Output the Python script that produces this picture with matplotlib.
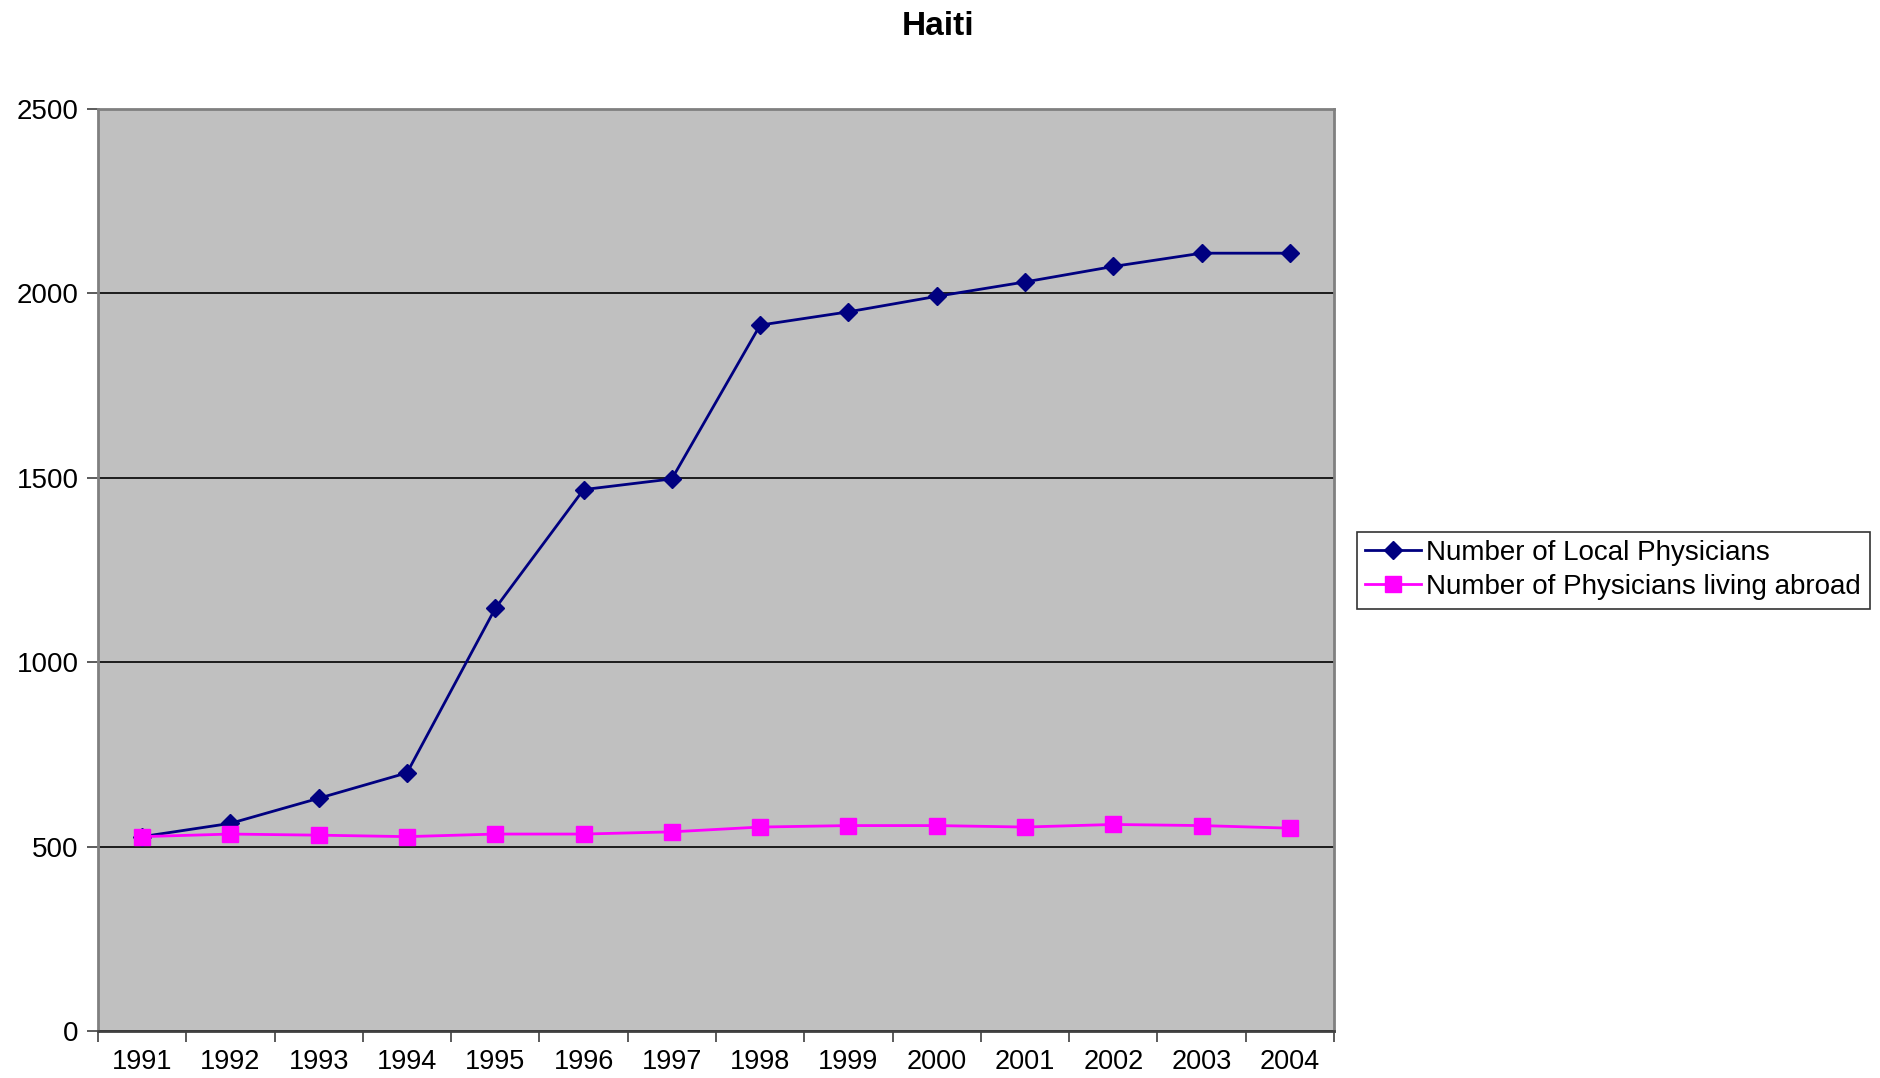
import matplotlib.pyplot as plt
import numpy as np

plt.rcParams['font.family'] = ['Liberation Sans', 'DejaVu Sans']

# dados
years = ['1991', '1992', '1993', '1994', '1995', '1996', '1997',
         '1998', '1999', '2000', '2001', '2002', '2003', '2004']
local = [527, 563, 631, 700, 1146, 1468, 1497, 1914, 1950, 1992, 2031, 2073, 2109, 2109]
abroad = [527, 534, 531, 527, 534, 534, 540, 553, 557, 557, 553, 560, 557, 550]

fig = plt.figure(figsize=(18.81, 10.78), dpi=100)
ax = fig.add_axes([0.0521, 0.0436, 0.6571, 0.8553])
ax.set_facecolor('#C0C0C0')

x = np.arange(len(years))
ax.plot(x, local, color='#000080', marker='D', markersize=9, linewidth=2,
        label='Number of Local Physicians', zorder=3)
ax.plot(x, abroad, color='#FF00FF', marker='s', markersize=11, linewidth=2,
        label='Number of Physicians living abroad', zorder=3)

ax.set_xlim(-0.5, len(years) - 0.5)
ax.set_ylim(0, 2500)
ax.set_yticks(np.arange(0, 2501, 500))
ax.yaxis.grid(True, color='black', linewidth=1.2)
ax.set_axisbelow(True)

# ticks entre as categorias, rótulos no centro
ax.set_xticks(np.arange(-0.5, len(years), 1.0))
ax.set_xticklabels([])
ax.set_xticks(x, minor=True)
ax.set_xticklabels(years, minor=True)
ax.tick_params(axis='x', which='major', length=8, width=1.2, color='#404040')
ax.tick_params(axis='x', which='minor', length=0, pad=13, labelsize=19.5)
ax.tick_params(axis='y', length=8, width=1.2, color='#404040', pad=6, labelsize=20)

for s in ['top', 'right', 'left']:
    ax.spines[s].set_color('#808080')
    ax.spines[s].set_linewidth(2)
ax.spines['bottom'].set_color('#404040')
ax.spines['bottom'].set_linewidth(2)

fig.suptitle('Haiti', x=0.4985, y=0.99, fontsize=24, fontweight='bold', va='top')

leg = fig.legend(loc='center left', bbox_to_anchor=(1357 / 1881, 1 - 570 / 1078),
                 fontsize=20, frameon=True, fancybox=False, edgecolor='black',
                 handlelength=2.0, handletextpad=0.2, borderpad=0.3,
                 borderaxespad=0, labelspacing=0.3)
leg.get_frame().set_linewidth(1.2)

fig.savefig('out.png', dpi=100)
